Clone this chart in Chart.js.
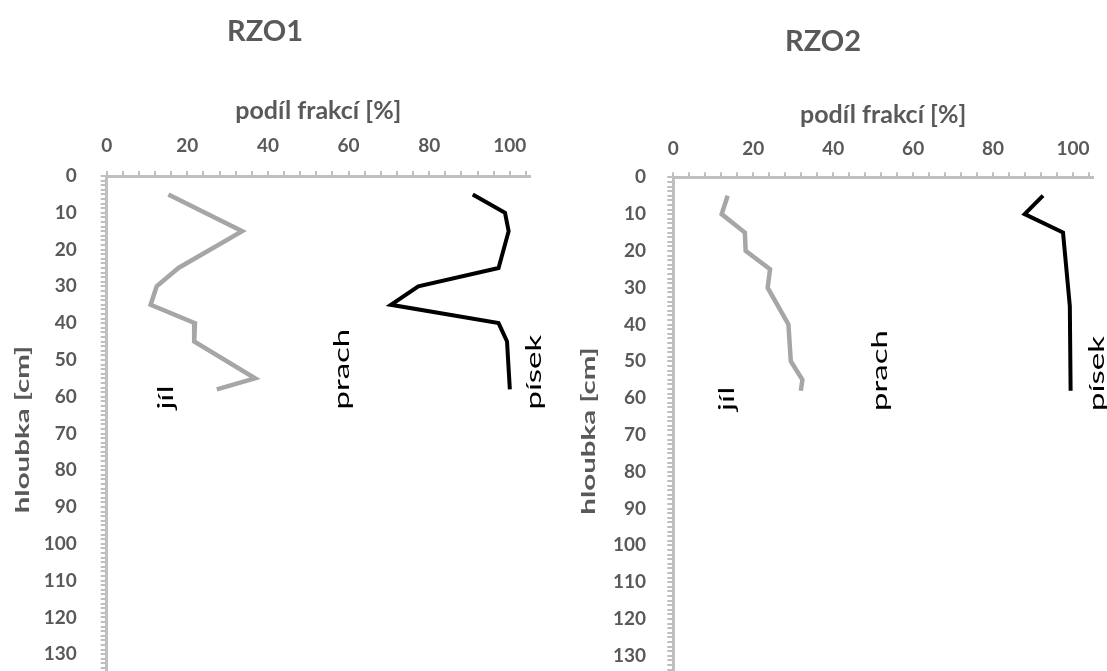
<!DOCTYPE html>
<html>
<head>
<meta charset="utf-8">
<script src="https://cdn.jsdelivr.net/npm/chart.js@4"></script>
<style>
  html, body { margin: 0; padding: 0; background: #fff; overflow: hidden; }
  #wrap { position: relative; width: 1107px; height: 671px; overflow: hidden; }
  canvas { position: absolute; top: 0; }
</style>
</head>
<body>
<div id="wrap">
  <canvas id="rzo1" width="553" height="700" style="left:0"></canvas>
  <canvas id="rzo2" width="554" height="700" style="left:553px"></canvas>
</div>
<script>
// RZO1 profile: depth [cm] and fraction share [%]
const rzo1JilDepth = [5, 15, 25, 30, 35, 40, 45, 55, 58];
const rzo1Jil      = [15.3, 33.6, 17.8, 12.4, 10.9, 21.9, 21.7, 36.8, 27.3];
const rzo1PisekDepth = [5, 10, 15, 25, 30, 35, 40, 45, 58];
const rzo1Pisek      = [90.8, 98.8, 99.7, 97.2, 77.3, 70.5, 97.2, 99.3, 100];

// RZO2 profile
const rzo2JilDepth = [5, 10, 15, 20, 25, 30, 40, 50, 55, 58];
const rzo2Jil      = [13.6, 12.1, 17.9, 18.1, 24.2, 23.6, 28.8, 29.4, 32.3, 31.9];
const rzo2PisekDepth = [5, 10, 15, 35, 58];
const rzo2Pisek      = [92.5, 87.9, 97.5, 99.2, 99.4];

// axis settings
const xTicks = [0, 20, 40, 60, 80, 100];
const xMax = 105;
const yMax = 140;
const yLabelStep = 10;

// fraction names written inside the plot, with their anchor (share %, depth cm)
const fractionNames = ['jíl', 'prach', 'písek'];
const rzo1NameX = [14.7, 58.4, 105.9];
const rzo2NameX = [13.4, 51.7, 106.0];
const nameDepth = 63.5;

const GREY_TEXT = '#595959';
const AXIS = '#bfbfbf';
const FONT = 'Lato, "Open Sans", sans-serif';
const STRETCH = 1.5;   // vertical texts are drawn widened along their length

function toPoints(depths, values){
  return depths.map((d, i) => ({x: values[i], y: d}));
}

function drawUpText(ctx, text, x, y, align, stretch){
  ctx.save();
  ctx.translate(x, y);
  ctx.rotate(-Math.PI / 2);
  ctx.scale(stretch, 1);
  ctx.textAlign = align;
  ctx.textBaseline = 'middle';
  ctx.fillText(text, 0, 0);
  ctx.restore();
}

const profileTexts = {
  id: 'profileTexts',
  afterDatasetsDraw(chart, args, opts){
    const {ctx, chartArea, scales:{x, y}} = chart;
    ctx.save();
    // fraction names
    ctx.fillStyle = '#000';
    ctx.font = '22px ' + FONT;
    opts.names.forEach((name, i) => {
      drawUpText(ctx, name, x.getPixelForValue(opts.xs[i]), y.getPixelForValue(opts.depth), 'left', STRETCH);
    });
    // depth axis title
    ctx.fillStyle = GREY_TEXT;
    ctx.font = 'bold 19px ' + FONT;
    drawUpText(ctx, 'hloubka [cm]', opts.yTitleX, (chartArea.top + chartArea.bottom) / 2 - 4, 'center', 1.55);
    ctx.restore();
  }
};

// keep tick labels from pushing the plot area inwards
function noScalePadding(s){
  s.paddingTop = 0; s.paddingBottom = 0; s.paddingLeft = 0; s.paddingRight = 0;
}

function makeProfile(id, title, cfg){
  const titleFont = {family: FONT, size: 29, weight: 'bold'};
  const titleHeight = cfg.titleTop + titleFont.size * 1.2;
  return new Chart(document.getElementById(id), {
    type: 'scatter',
    data: {
      datasets: [
        {label: 'jíl', data: toPoints(cfg.jilDepth, cfg.jil), showLine: true,
         borderColor: '#a6a6a6', borderWidth: 4.5, pointRadius: 0, fill: false},
        {label: 'písek', data: toPoints(cfg.pisekDepth, cfg.pisek), showLine: true,
         borderColor: '#000', borderWidth: 4, pointRadius: 0, fill: false}
      ]
    },
    options: {
      responsive: false,
      animation: false,
      layout: {padding: {left: 0, right: cfg.padRight, top: 0, bottom: cfg.padBottom}},
      plugins: {
        legend: {display: false},
        tooltip: {enabled: false},
        title: {display: true, text: title, color: GREY_TEXT, font: titleFont,
                padding: {top: cfg.titleTop, bottom: 0}},
        profileTexts: {names: fractionNames, xs: cfg.nameX, depth: nameDepth, yTitleX: cfg.yTitleX}
      },
      scales: {
        x: {
          type: 'linear', position: 'top', min: 0, max: xMax,
          afterBuildTicks: s => {
            const t = [];
            for (let v = 0; v <= 104; v += 4) t.push({value: v});
            s.ticks = t;
          },
          afterFit: s => { s.height = cfg.plotTop - titleHeight; noScalePadding(s); },
          ticks: {
            autoSkip: false, maxRotation: 0, padding: cfg.xTickPad, color: GREY_TEXT,
            font: {family: FONT, size: 19, weight: 'bold'},
            callback: v => xTicks.includes(v) ? String(v) : ''
          },
          grid: {drawOnChartArea: false, tickLength: 5, color: AXIS, lineWidth: 2},
          border: {display: true, color: AXIS, width: 3},
          title: {display: true, text: 'podíl frakcí [%]', color: GREY_TEXT,
                  font: {family: FONT, size: 25, weight: 'bold'},
                  padding: {top: cfg.xTitlePad, bottom: 0}}
        },
        y: {
          type: 'linear', reverse: true, min: 0, max: yMax,
          afterBuildTicks: s => {
            const t = [];
            for (let v = 0; v <= yMax; v += 1.25) t.push({value: v});
            s.ticks = t;
          },
          afterFit: s => { s.width = cfg.plotLeft; noScalePadding(s); },
          ticks: {
            autoSkip: false, padding: cfg.yTickPad, color: GREY_TEXT,
            font: {family: FONT, size: 19, weight: 'bold'},
            callback: v => (Math.abs(v % yLabelStep) < 1e-6 && v < yMax) ? String(v) : ''
          },
          grid: {drawOnChartArea: false, tickLength: 6, color: AXIS, lineWidth: 2},
          border: {display: true, color: AXIS, width: 3},
          title: {display: false}
        }
      }
    },
    plugins: [profileTexts]
  });
}

makeProfile('rzo1', 'RZO1', {
  jilDepth: rzo1JilDepth, jil: rzo1Jil, pisekDepth: rzo1PisekDepth, pisek: rzo1Pisek,
  nameX: rzo1NameX, yTitleX: 23,
  titleTop: 14, plotTop: 176, plotLeft: 106.7, padRight: 23, padBottom: 9,
  xTickPad: 14, xTitlePad: 47, yTickPad: 24
});

makeProfile('rzo2', 'RZO2', {
  jilDepth: rzo2JilDepth, jil: rzo2Jil, pisekDepth: rzo2PisekDepth, pisek: rzo2Pisek,
  nameX: rzo2NameX, yTitleX: 36,
  titleTop: 24, plotTop: 177.3, plotLeft: 120.3, padRight: 14, padBottom: 7.5,
  xTickPad: 11.6, xTitlePad: 41, yTickPad: 21.3
});
</script>
</body>
</html>
